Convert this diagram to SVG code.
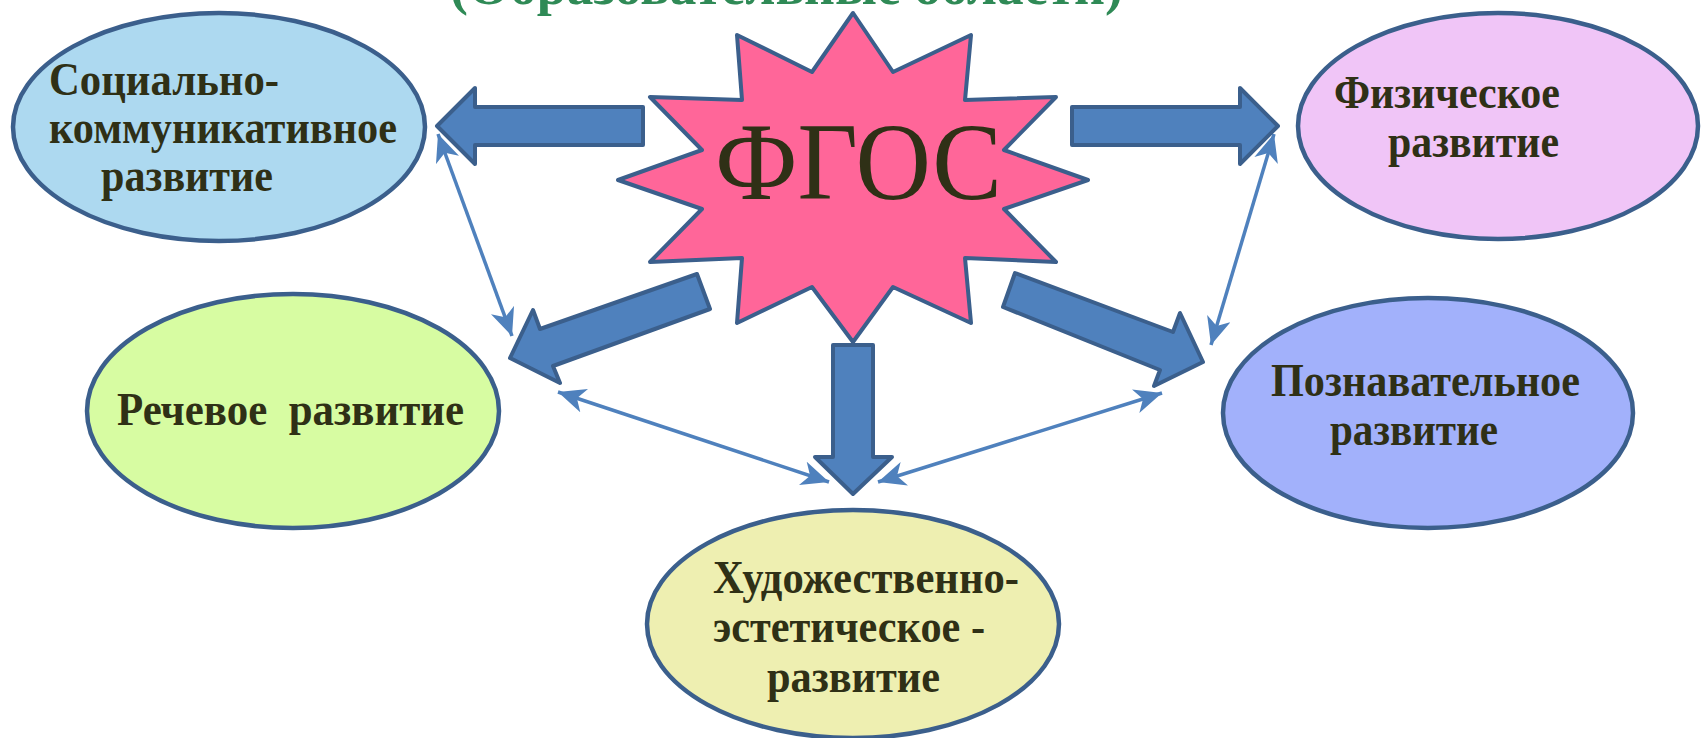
<svg xmlns="http://www.w3.org/2000/svg" width="1701" height="738" viewBox="0 0 1701 738">
<style>
.ell{stroke:#3b5f8c;stroke-width:4.5}
.lbl{font-family:"Liberation Serif","Times New Roman",serif;font-weight:bold;font-size:47px;fill:#2f3016}
.big{fill:#4f81bd;stroke:#3b5f8c;stroke-width:4;stroke-linejoin:round}
.thin{stroke:#4f81bd;stroke-width:3.5;fill:none;marker-start:url(#stealth);marker-end:url(#stealth)}
</style>
<defs>
<marker id="stealth" viewBox="0 0 9 8" refX="9" refY="4" markerWidth="8" markerHeight="7" markerUnits="strokeWidth" orient="auto-start-reverse">
<path d="M0,0 L9,4 L0,8 L2.5,4 Z" fill="#4f81bd"/>
</marker>
</defs>
<rect width="1701" height="738" fill="#ffffff"/>
<text x="450" y="4" font-family="Liberation Serif, serif" font-weight="bold" font-size="54" fill="#2f8a56" textLength="673" lengthAdjust="spacingAndGlyphs">(Образовательные области)</text>

<g id="connectors">
<line class="thin" x1="438" y1="134" x2="512" y2="336"/>
<line class="thin" x1="1274" y1="134" x2="1211" y2="345"/>
<line class="thin" x1="558" y1="392" x2="829" y2="482"/>
<line class="thin" x1="1162" y1="393" x2="878" y2="482"/>
<polygon class="big" points="437,126 475,88 475,107 643,107 643,145 475,145 475,164"/>
<polygon class="big" points="1278,126 1240,88 1240,107 1072,107 1072,145 1240,145 1240,164"/>
<polygon class="big" points="853,494 815,457 833,457 833,345 873,345 873,457 892,457"/>
<polygon class="big" points="510,358 533,310 540,329 697,274 710,309 553,366 560,383"/>
<polygon class="big" points="1203,362 1180,313 1173,332 1015,273 1003,307 1160,370 1154,386"/>
</g>

<g id="fgos">
<polygon points="853,13 893,72 971,35 965,100 1056,97 1004,150 1088,180 1004,209 1056,262 965,258 971,323 893,287 853,342 812,287 737,323 742,258 650,262 702,209 618,180 702,150 650,97 742,100 737,35 812,72" fill="#ff6699" stroke="#3b5f8c" stroke-width="4" stroke-linejoin="round"/>
<text x="715" y="199" font-family="Liberation Serif, serif" font-size="110" fill="#2f3016" textLength="287" lengthAdjust="spacingAndGlyphs">ФГОС</text>
</g>

<g id="social">
<ellipse class="ell" cx="219" cy="127" rx="206" ry="114" fill="#add9f0"/>
<text class="lbl" x="49" y="95" textLength="230" lengthAdjust="spacingAndGlyphs">Социально-</text>
<text class="lbl" x="49" y="143" textLength="348" lengthAdjust="spacingAndGlyphs">коммуникативное</text>
<text class="lbl" x="101" y="191" textLength="172" lengthAdjust="spacingAndGlyphs">развитие</text>
</g>

<g id="physical">
<ellipse class="ell" cx="1498" cy="126" rx="200" ry="113" fill="#f0c5f7"/>
<text class="lbl" x="1334" y="108" textLength="226" lengthAdjust="spacingAndGlyphs">Физическое</text>
<text class="lbl" x="1388" y="157" textLength="171" lengthAdjust="spacingAndGlyphs">развитие</text>
</g>

<g id="speech">
<ellipse class="ell" cx="293" cy="411" rx="206" ry="117" fill="#d7fca2"/>
<text class="lbl" x="117" y="425" textLength="347" lengthAdjust="spacingAndGlyphs" xml:space="preserve">Речевое  развитие</text>
</g>

<g id="cognitive">
<ellipse class="ell" cx="1428" cy="413" rx="205" ry="115" fill="#a2b1fb"/>
<text class="lbl" x="1271" y="396" textLength="309" lengthAdjust="spacingAndGlyphs">Познавательное</text>
<text class="lbl" x="1330" y="445" textLength="168" lengthAdjust="spacingAndGlyphs">развитие</text>
</g>

<g id="artistic">
<ellipse class="ell" cx="853" cy="624" rx="206" ry="114" fill="#eeefb1"/>
<text class="lbl" x="713" y="593" textLength="306" lengthAdjust="spacingAndGlyphs">Художественно-</text>
<text class="lbl" x="713" y="642" textLength="272" lengthAdjust="spacingAndGlyphs" xml:space="preserve">эстетическое -</text>
<text class="lbl" x="767" y="692" textLength="173" lengthAdjust="spacingAndGlyphs">развитие</text>
</g>
</svg>
